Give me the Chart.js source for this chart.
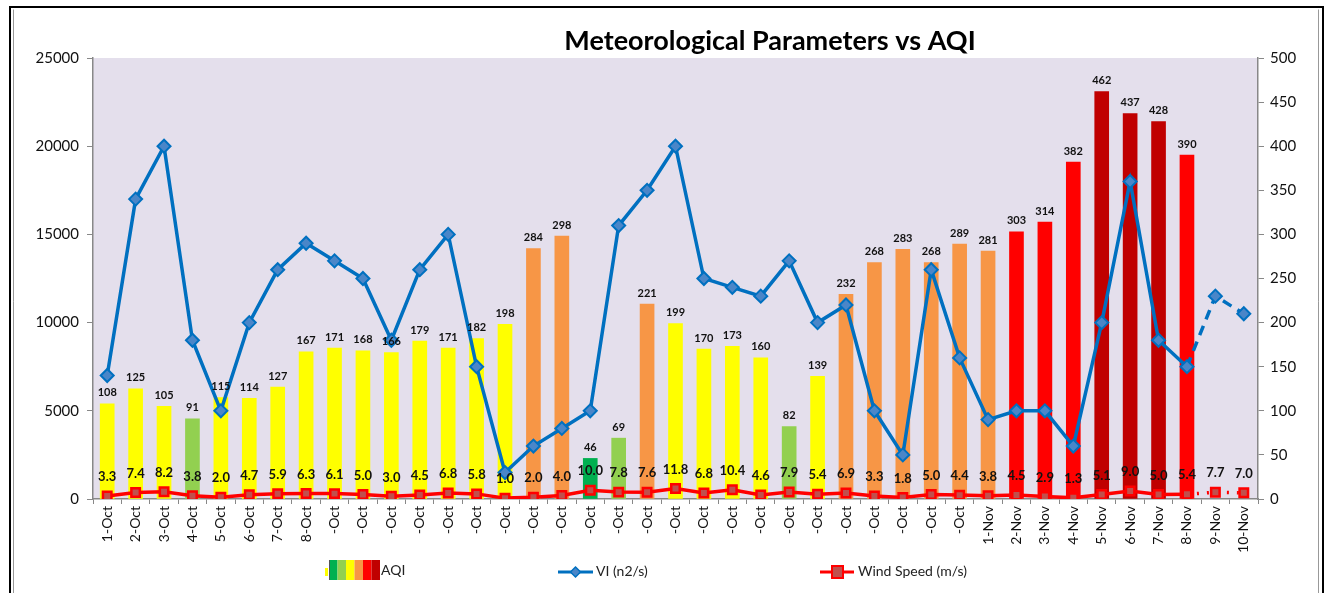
<!DOCTYPE html>
<html>
<head>
<meta charset="utf-8">
<title>Meteorological Parameters vs AQI</title>
<script src="https://cdn.jsdelivr.net/npm/chart.js@4"></script>
<style>
  body { margin: 0; background: #fff; }
  canvas { display: block; }
</style>
</head>
<body>
<canvas id="chart" width="1326" height="593"></canvas>
<script>
// dates
const days = [
  '1-Oct', '2-Oct', '3-Oct', '4-Oct', '5-Oct', '6-Oct', '7-Oct', '8-Oct',
  '-Oct', '-Oct', '-Oct', '-Oct', '-Oct', '-Oct', '-Oct', '-Oct', '-Oct', '-Oct', '-Oct', '-Oct',
  '-Oct', '-Oct', '-Oct', '-Oct', '-Oct', '-Oct', '-Oct', '-Oct', '-Oct', '-Oct', '-Oct',
  '1-Nov', '2-Nov', '3-Nov', '4-Nov', '5-Nov', '6-Nov', '7-Nov', '8-Nov', '9-Nov', '10-Nov'
];

// AQI (right axis)
const aqi = [
  108, 125, 105, 91, 115, 114, 127, 167, 171, 168, 166, 179, 171, 182, 198, 284, 298, 46, 69, 221,
  199, 170, 173, 160, 82, 139, 232, 268, 283, 268, 289, 281, 303, 314, 382, 462, 437, 428, 390, null, null
];

// ventilation index (left axis)
const vi = [
  7000, 17000, 20000, 9000, 5000, 10000, 13000, 14500, 13500, 12500, 9000, 13000, 15000, 7500, 1500, 3000,
  4000, 5000, 15500, 17500, 20000, 12500, 12000, 11500, 13500, 10000, 11000, 5000, 2500, 13000, 8000,
  4500, 5000, 5000, 3000, 10000, 18000, 9000, 7500, 11500, 10500
];

// wind speed (right axis)
const wind = [
  3.3, 7.4, 8.2, 3.8, 2.0, 4.7, 5.9, 6.3, 6.1, 5.0, 3.0, 4.5, 6.8, 5.8, 1.0, 2.0, 4.0, 10.0, 7.8, 7.6,
  11.8, 6.8, 10.4, 4.6, 7.9, 5.4, 6.9, 3.3, 1.8, 5.0, 4.4, 3.8, 4.5, 2.9, 1.3, 5.1, 9.0, 5.0, 5.4, 7.7, 7.0
];

const viTicks = [0, 5000, 10000, 15000, 20000, 25000];
const aqiTicks = [0, 50, 100, 150, 200, 250, 300, 350, 400, 450, 500];

const aqiBands = ['#00b050', '#92d050', '#ffff00', '#f79646', '#ff0000', '#c00000'];
const FONT = 'Lato, "Open Sans", sans-serif';

function aqiColor(v) {
  if (v <= 50) return aqiBands[0];
  if (v <= 100) return aqiBands[1];
  if (v <= 200) return aqiBands[2];
  if (v <= 300) return aqiBands[3];
  if (v <= 400) return aqiBands[4];
  return aqiBands[5];
}

// frame, title, value labels and legend
const decor = {
  id: 'decor',
  beforeDraw(chart) {
    const c = chart.ctx;
    const a = chart.chartArea;
    c.save();
    c.fillStyle = '#e4dfec';
    c.fillRect(a.left, a.top, a.right - a.left, a.bottom - a.top);
    c.restore();
  },
  afterDatasetsDraw(chart) {
    const c = chart.ctx;
    c.save();
    c.fillStyle = '#111';
    c.textAlign = 'center';
    c.textBaseline = 'middle';
    // AQI labels
    c.font = 'bold 11px ' + FONT;
    chart.getDatasetMeta(0).data.forEach((bar, i) => {
      if (aqi[i] == null) return;
      c.fillText(aqi[i], bar.x, bar.y - 11);
    });
    // wind labels
    c.font = 'bold 13px ' + FONT;
    chart.getDatasetMeta(2).data.forEach((pt, i) => {
      c.fillText(wind[i].toFixed(1), pt.x, pt.y - 19);
    });
    c.restore();
  },
  afterDraw(chart) {
    const c = chart.ctx;
    c.save();
    // outer frame
    c.strokeStyle = '#000';
    c.lineWidth = 2;
    c.beginPath();
    c.moveTo(10, 600); c.lineTo(10, 7); c.lineTo(1323, 7); c.lineTo(1323, 600);
    c.stroke();
    c.strokeStyle = '#999';
    c.lineWidth = 1;
    c.beginPath();
    c.moveTo(13.5, 600); c.lineTo(13.5, 9.5);
    c.moveTo(1318.5, 9.5); c.lineTo(1318.5, 600);
    c.stroke();

    // title
    c.fillStyle = '#000';
    c.font = 'bold 27px ' + FONT;
    c.textAlign = 'center';
    c.textBaseline = 'middle';
    c.fillText('Meteorological Parameters vs AQI', 770, 41);

    // legend
    const ly = 570;
    c.font = '14px ' + FONT;
    c.textAlign = 'left';
    c.fillStyle = '#ffff00';
    c.fillRect(325, ly - 2, 3, 8);
    aqiBands.forEach((col, i) => {
      c.fillStyle = col;
      c.fillRect(329 + i * 8.5, ly - 10, 8.5, 20);
    });
    c.strokeStyle = '#555';
    c.lineWidth = 1;
    c.beginPath(); c.moveTo(329.5, ly - 10); c.lineTo(329.5, ly + 10); c.stroke();
    c.fillStyle = '#222';
    c.fillText('AQI', 381, ly);

    c.strokeStyle = '#0070c0';
    c.lineWidth = 3;
    c.beginPath(); c.moveTo(558, ly + 2); c.lineTo(593, ly + 2); c.stroke();
    c.fillStyle = '#4a86c8';
    c.lineWidth = 1.5;
    c.beginPath();
    c.moveTo(575.5, ly - 3); c.lineTo(580.5, ly + 2); c.lineTo(575.5, ly + 7); c.lineTo(570.5, ly + 2);
    c.closePath(); c.fill(); c.stroke();
    c.fillStyle = '#222';
    c.fillText('VI (n2/s)', 596, ly + 1);

    c.strokeStyle = '#ff0000';
    c.lineWidth = 3;
    c.beginPath(); c.moveTo(820, ly + 2); c.lineTo(854, ly + 2); c.stroke();
    c.fillStyle = '#c0504d';
    c.lineWidth = 2;
    c.fillRect(832, ly - 4, 11, 12);
    c.strokeRect(832, ly - 4, 11, 12);
    c.fillStyle = '#222';
    c.fillText('Wind Speed (m/s)', 858, ly + 1);
    c.restore();
  }
};

const ctx = document.getElementById('chart').getContext('2d');

const chart = new Chart(ctx, {
  type: 'bar',
  data: {
    labels: days,
    datasets: [
      {
        label: 'AQI',
        data: aqi,
        yAxisID: 'y1',
        backgroundColor: aqi.map(v => v == null ? 'transparent' : aqiColor(v)),
        barThickness: 14,
        order: 3
      },
      {
        type: 'line',
        label: 'VI (n2/s)',
        data: vi,
        yAxisID: 'y',
        borderColor: '#0070c0',
        borderWidth: 3.5,
        pointStyle: 'rectRot',
        pointRadius: 6.5,
        pointBackgroundColor: '#4a86c8',
        pointBorderColor: '#0070c0',
        pointBorderWidth: 2,
        tension: 0,
        segment: {
          borderDash: s => s.p0DataIndex >= 38 ? [10, 7] : undefined
        },
        order: 2
      },
      {
        type: 'line',
        label: 'Wind Speed (m/s)',
        data: wind,
        yAxisID: 'y1',
        borderColor: '#ff0000',
        borderWidth: 3.5,
        pointStyle: 'rect',
        pointRadius: 6,
        pointBackgroundColor: '#c0504d',
        pointBorderColor: '#ff0000',
        pointBorderWidth: 2.5,
        tension: 0,
        segment: {
          borderDash: s => s.p0DataIndex >= 38 ? [2, 8] : undefined
        },
        order: 1
      }
    ]
  },
  options: {
    responsive: false,
    animation: false,
    devicePixelRatio: 1,
    layout: { padding: { top: 58, left: 0, right: 0, bottom: 0 } },
    plugins: {
      legend: { display: false },
      title: { display: false },
      tooltip: { enabled: false }
    },
    scales: {
      x: {
        offset: true,
        grid: { drawOnChartArea: false, offset: true, tickLength: 5, color: '#888' },
        border: { color: '#888', width: 1.5 },
        ticks: {
          autoSkip: false,
          minRotation: 90,
          maxRotation: 90,
          color: '#111',
          padding: 2,
          font: { family: FONT, size: 14 }
        },
        afterFit: s => { s.height = 94; }
      },
      y: {
        position: 'left',
        min: 0,
        max: 25000,
        afterBuildTicks: s => { s.ticks = viTicks.map(v => ({ value: v })); },
        grid: { drawOnChartArea: false, tickLength: 6, color: '#888' },
        border: { color: '#888', width: 1.5 },
        ticks: {
          color: '#111',
          padding: 8,
          font: { family: FONT, size: 15 },
          callback: v => String(v)
        },
        afterFit: s => { s.width = 93; }
      },
      y1: {
        position: 'right',
        min: 0,
        max: 500,
        afterBuildTicks: s => { s.ticks = aqiTicks.map(v => ({ value: v })); },
        grid: { drawOnChartArea: false, tickLength: 6, color: '#888' },
        border: { color: '#888', width: 1.5 },
        ticks: {
          color: '#111',
          padding: 6,
          font: { family: FONT, size: 15 },
          callback: v => String(v)
        },
        afterFit: s => { s.width = 68; }
      }
    }
  },
  plugins: [decor]
});
</script>
</body>
</html>
